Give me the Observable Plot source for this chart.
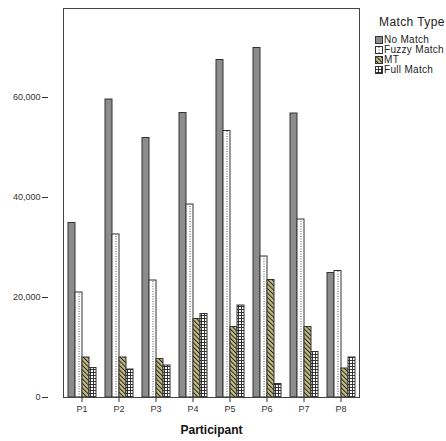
<!DOCTYPE html>
<html><head><meta charset="utf-8">
<script src="https://cdn.jsdelivr.net/npm/d3@7"></script>
<script src="https://cdn.jsdelivr.net/npm/@observablehq/plot@0.6"></script>
<style>
body{margin:0;background:#fff;font-family:"Liberation Sans",Arial,sans-serif;}
#wrap{position:relative;width:446px;height:441px;overflow:hidden;}
#chart{position:absolute;left:0;top:0;}
#legend{position:absolute;left:375px;top:15px;color:#222;white-space:nowrap;}
#legend .title{font-size:12px;line-height:14px;margin-left:4px;margin-bottom:6px;letter-spacing:0.4px;}
#legend .item{font-size:10px;height:10px;line-height:10px;display:flex;align-items:center;letter-spacing:0.3px;}
#legend svg{margin-right:1px;flex:none;}
</style></head><body>
<div id="wrap"><div id="chart"></div><div id="legend"></div></div>
<script>
const participants = ["P1","P2","P3","P4","P5","P6","P7","P8"];
const matchTypes = ["No Match","Fuzzy Match","MT","Full Match"];
const noMatch    = [34900, 59600, 51900, 56900, 67500, 69900, 56800, 24900];
const fuzzyMatch = [21000, 32600, 23400, 38600, 53300, 28200, 35600, 25300];
const mt         = [8000, 8000, 7700, 15700, 14100, 23500, 14100, 5800];
const fullMatch  = [5900, 5600, 6400, 16700, 18400, 2700, 9100, 8000];
const yTicks = [0, 20000, 40000, 60000];
const axisLabel = "Participant";
const legendTitle = "Match Type";

const series = [noMatch, fuzzyMatch, mt, fullMatch];
const rows = [];
participants.forEach((p, i) => matchTypes.forEach((t, j) => rows.push({participant: p, type: t, value: series[j][i]})));

const fills = ["#8c8c8c", "#ffffff", "url(#pat-mt)", "url(#pat-full)"];
const marginLeft = 48;

function makeChart(axisDx) {
  return Plot.plot({
    width: 375, height: 441,
    marginTop: 8, marginBottom: 44, marginLeft, marginRight: 1,
    style: {fontFamily: "'Liberation Sans', Arial, sans-serif", fontSize: "9px", color: "#222", background: "#fff", overflow: "visible"},
    fx: {domain: participants, paddingInner: 0, paddingOuter: 0.35, label: null, axis: null},
    x: {domain: matchTypes, paddingInner: 0, paddingOuter: 0.34, axis: null},
    y: {domain: [0, 77800], label: null, axis: null},
    color: {domain: matchTypes, range: fills},
    marks: [
      Plot.barY(rows, {fx: "participant", x: "type", y: "value", fill: "type", stroke: "#333", strokeWidth: 1}),
      Plot.ruleX(rows.filter(d => d.type === "Fuzzy Match"), {fx: "participant", x: "type", y1: 0, y2: "value", stroke: "#555", strokeDasharray: "1,1.5"}),
      Plot.axisY({ticks: yTicks, tickFormat: d3.format(","), tickSize: 6, tickPadding: 2, label: null, stroke: "#333", fill: "#333", dx: axisDx}),
      Plot.axisFx({anchor: "bottom", tickSize: 5, tickPadding: 3, label: null, stroke: "#333", fill: "#333"}),
      Plot.frame({facet: "super", stroke: "#444"}),
      Plot.text([axisLabel], {facet: "super", frameAnchor: "bottom", dy: 36, fontWeight: "bold", fontSize: 12, fill: "#111"})
    ]
  });
}
// measure the gap between the frame and the first facet, then shift the y axis onto the frame edge
const probe = makeChart(0);
const gap = probe.scale("fx").apply(participants[0]) - marginLeft;
const chart = makeChart(-gap);

const defsHTML = `
<pattern id="pat-mt" patternUnits="userSpaceOnUse" width="3.2" height="3.2" patternTransform="rotate(-45)">
  <rect width="3.2" height="3.2" fill="#c4bc85"/>
  <line x1="0.5" y1="0" x2="0.5" y2="3.2" stroke="#111" stroke-width="0.9"/>
</pattern>
<pattern id="pat-full" patternUnits="userSpaceOnUse" width="3" height="3">
  <rect width="3" height="3" fill="#fff"/>
  <path d="M0,0.5H3M0.5,0V3" stroke="#222" stroke-width="0.9"/>
</pattern>`;
const defs = document.createElementNS("http://www.w3.org/2000/svg", "defs");
defs.innerHTML = defsHTML;
chart.insertBefore(defs, chart.firstChild);
document.getElementById("chart").appendChild(chart);

// legend
const legend = document.getElementById("legend");
const title = document.createElement("div");
title.className = "title";
title.textContent = legendTitle;
legend.appendChild(title);
matchTypes.forEach((t, j) => {
  const item = document.createElement("div");
  item.className = "item";
  const dotted = t === "Fuzzy Match" ? `<line x1="4" y1="1" x2="4" y2="7" stroke="#555" stroke-dasharray="1,1.5"/>` : "";
  item.innerHTML = `<svg width="8" height="8"><rect x="0.5" y="0.5" width="7" height="7" fill="${fills[j]}" stroke="#333"/>${dotted}</svg><span>${t}</span>`;
  legend.appendChild(item);
});
</script>
</body></html>
